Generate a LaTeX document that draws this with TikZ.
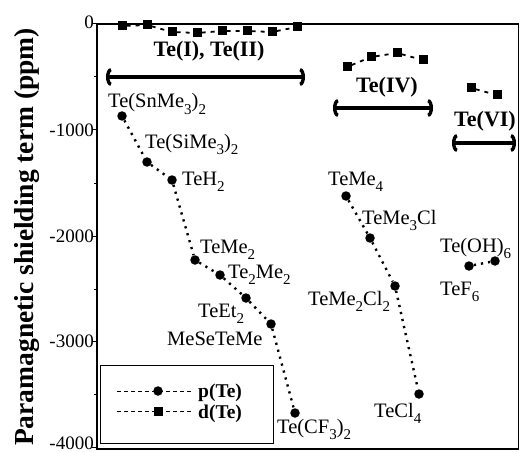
\documentclass[tikz,border=0pt]{standalone}
\usepackage{fontspec}
\setmainfont{Liberation Serif}
\usetikzlibrary{arrows.meta}
\newcommand{\lowidx}[1]{\raisebox{-6.5pt}{\fontsize{15}{15}\selectfont #1}}

\begin{document}
\begin{tikzpicture}[x=1pt, y=-1pt,
        lbl/.style={font=\fontsize{20.5}{21}\selectfont, inner sep=0pt, anchor=base west},
        grp/.style={font=\bfseries\fontsize{22}{22}\selectfont, inner sep=0pt, anchor=base},
        leglbl/.style={font=\bfseries\fontsize{19.5}{19.5}\selectfont, inner sep=0pt, anchor=base west},
        ticklbl/.style={font=\fontsize{19}{19}\selectfont, inner sep=0pt, anchor=east},
        pdot/.style={circle, fill, inner sep=0pt, minimum size=9.5pt},
        dsq/.style={rectangle, fill, inner sep=0pt, minimum size=9pt},
        pline/.style={line width=2.4pt, dash pattern=on 2.2pt off 5pt},
        dline/.style={line width=1.8pt, dash pattern=on 4pt off 5pt},
        legline/.style={line width=1pt, dash pattern=on 4pt off 3pt},
        grpspan/.style={line width=3.2pt, {Arc Barb[length=5pt,width=18pt,line width=3.4pt]}-{Arc Barb[length=5pt,width=18pt,line width=3.4pt]}}]
    \useasboundingbox (0,0) rectangle (520,452);

    % frame and ticks
    \draw[line width=2.2pt] (519,24) -- (97,24) -- (97,449) -- (519,449);
    \draw[line width=0.8pt] (518.5,24) -- (518.5,449);
    \foreach \y in {24,130,236,341,447} \draw[line width=1pt] (92,\y) -- (97,\y);
    \foreach \y in {77,183,289,394} \draw[line width=1pt] (94,\y) -- (97,\y);
    \node[ticklbl] at (94,22) {0};
    \node[ticklbl] at (94,130) {-1000};
    \node[ticklbl] at (94,236) {-2000};
    \node[ticklbl] at (94,341) {-3000};
    \node[ticklbl] at (94,443) {-4000};
    \node[font=\bfseries\fontsize{27.5}{28}\selectfont, inner sep=0pt, anchor=base, rotate=90] (ylab) at (33,237) {Paramagnetic shielding term (ppm)};

    % d(Te) squares
    \node[dsq] (d1) at (122,26) {};
    \node[dsq] (d2) at (147,25) {};
    \node[dsq] (d3) at (172,32) {};
    \node[dsq] (d4) at (197,33) {};
    \node[dsq] (d5) at (222,31) {};
    \node[dsq] (d6) at (247,31) {};
    \node[dsq] (d7) at (272,32) {};
    \node[dsq] (d8) at (297,27) {};
    \draw[dline] (d1) -- (d2) -- (d3) -- (d4) -- (d5) -- (d6) -- (d7) -- (d8);
    \node[dsq] (d9) at (347,67) {};
    \node[dsq] (d10) at (371,57) {};
    \node[dsq] (d11) at (397,53) {};
    \node[dsq] (d12) at (423,60) {};
    \draw[dline] (d9) -- (d10) -- (d11) -- (d12);
    \node[dsq] (d13) at (471,88) {};
    \node[dsq] (d14) at (497,95) {};
    \draw[dline] (d13) -- (d14);

    % oxidation state ranges
    \node[grp] (g12) at (209,57) {Te(I), Te(II)};
    \coordinate (g12a) at (106,77);
    \coordinate (g12b) at (305,77);
    \draw[grpspan] (g12a) -- (g12b);
    \node[grp] (g4) at (387,93) {Te(IV)};
    \coordinate (g4a) at (333,108);
    \coordinate (g4b) at (433,108);
    \draw[grpspan] (g4a) -- (g4b);
    \node[grp] (g6) at (485,127) {Te(VI)};
    \coordinate (g6a) at (452,143);
    \coordinate (g6b) at (516,143);
    \draw[grpspan] (g6a) -- (g6b);

    % p(Te) points
    \node[pdot] (p1) at (122,116) {};
    \node[pdot] (p2) at (147,162) {};
    \node[pdot] (p3) at (172,180) {};
    \node[pdot] (p4) at (195,260) {};
    \node[pdot] (p5) at (220,275) {};
    \node[pdot] (p6) at (246,298) {};
    \node[pdot] (p7) at (271,324) {};
    \node[pdot] (p8) at (295,413) {};
    \draw[pline] (p1) -- (p2) -- (p3) -- (p4) -- (p5) -- (p6) -- (p7) -- (p8);
    \node[pdot] (p9) at (346,196) {};
    \node[pdot] (p10) at (370,238) {};
    \node[pdot] (p11) at (395,286) {};
    \node[pdot] (p12) at (419,394) {};
    \draw[pline] (p9) -- (p10) -- (p11) -- (p12);
    \node[pdot] (p13) at (469,266) {};
    \node[pdot] (p14) at (495,261) {};
    \draw[pline] (p13) -- (p14);

    % compound names
    \node[lbl] at (108,108) {Te(SnMe\lowidx{3})\lowidx{2}};
    \node[lbl] at (145,148) {Te(SiMe\lowidx{3})\lowidx{2}};
    \node[lbl] at (182,185) {TeH\lowidx{2}};
    \node[lbl] at (200,253) {TeMe\lowidx{2}};
    \node[lbl] at (228,278) {Te\lowidx{2}Me\lowidx{2}};
    \node[lbl] at (198,317) {TeEt\lowidx{2}};
    \node[lbl] at (167,345) {MeSeTeMe};
    \node[lbl] at (277,433) {Te(CF\lowidx{3})\lowidx{2}};
    \node[lbl] at (328,185) {TeMe\lowidx{4}};
    \node[lbl] at (362,224) {TeMe\lowidx{3}Cl};
    \node[lbl] at (308,305) {TeMe\lowidx{2}Cl\lowidx{2}};
    \node[lbl] at (374,417) {TeCl\lowidx{4}};
    \node[lbl] at (440,252) {Te(OH)\lowidx{6}};
    \node[lbl] at (440,295) {TeF\lowidx{6}};

    % legend
    \draw[line width=0.8pt] (100,365) rectangle (273,443);
    \coordinate (lpa) at (117,391);
    \coordinate (lpb) at (193,391);
    \draw[legline] (lpa) -- (lpb);
    \node[pdot] (lp) at (158,391) {};
    \node[leglbl] at (198,397) {p(Te)};
    \coordinate (lda) at (117,411);
    \coordinate (ldb) at (193,411);
    \draw[legline] (lda) -- (ldb);
    \node[dsq] (ld) at (158,411) {};
    \node[leglbl] at (198,418) {d(Te)};
\end{tikzpicture}
\end{document}
